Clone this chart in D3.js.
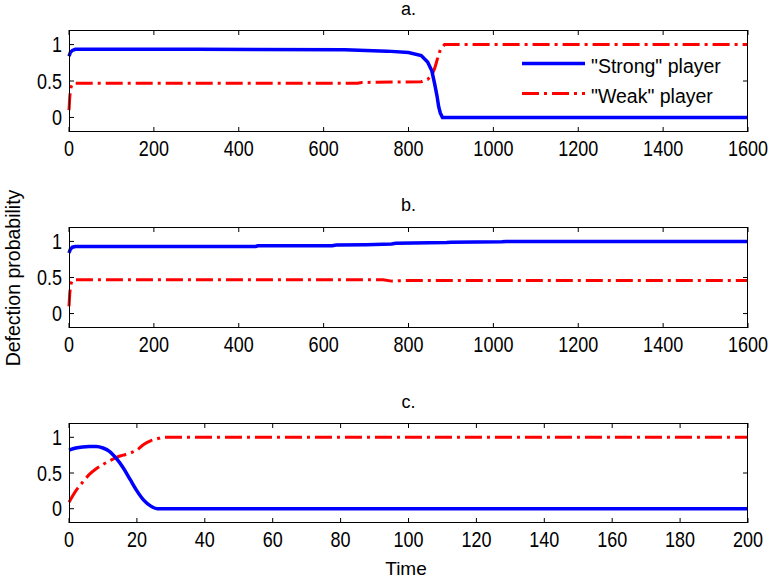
<!DOCTYPE html>
<html><head><meta charset="utf-8">
<script src="https://cdn.jsdelivr.net/npm/d3@7"></script>
<style>body{margin:0;background:#fff}svg{display:block}text{font-family:Arial,"Liberation Sans",sans-serif;fill:#000}</style>
</head><body>
<svg id="c" width="773" height="579"></svg>
<script>
// ---- data ----
const titles = ["a.", "b.", "c."];
const xMax = [1600, 1600, 200];
const xTickStep = [200, 200, 20];
const yTicks = [0, 0.5, 1];
const yTickLabels = ["0", "0.5", "1"];
const seriesNames = ['"Strong" player', '"Weak" player'];

const aStrongT = [0,3,8,15,30,300,650,700,750,800,830,845,855,862,867,871,875,880,890,1600];
const aStrongV = [0.84,0.89,0.92,0.935,0.935,0.935,0.93,0.92,0.91,0.89,0.85,0.76,0.64,0.45,0.3,0.15,0.06,0.0,0.0,0.0];
const aWeakT = [0,2,5,8,15,680,690,830,845,855,862,868,875,885,1600];
const aWeakV = [0.1,0.3,0.42,0.46,0.47,0.47,0.48,0.49,0.52,0.58,0.68,0.8,0.93,1.0,1.0];

const bStrongT = [0,3,8,15,440,445,620,630,700,760,770,890,900,1020,1030,1600];
const bStrongV = [0.84,0.89,0.92,0.93,0.93,0.94,0.94,0.95,0.955,0.965,0.975,0.985,0.99,0.995,1.0,1.0];
const bWeakT = [0,2,5,8,15,740,760,800,1600];
const bWeakV = [0.1,0.3,0.42,0.46,0.47,0.47,0.45,0.46,0.46];

const cStrongT = [0,2,4,6,8,10,12,14,16,18,20,22,24,26,30,200];
const cStrongV = [0.82,0.85,0.865,0.87,0.87,0.85,0.8,0.7,0.57,0.41,0.25,0.12,0.04,0.0,0.0,0.0];
const cWeakT = [0,2,4,6,8,10,12,14,16,18,20,22,24,26,28,200];
const cWeakV = [0.09,0.25,0.37,0.48,0.56,0.62,0.67,0.72,0.75,0.78,0.82,0.9,0.95,0.98,1.0,1.0];

const panels = [
  {strong:[aStrongT,aStrongV], weak:[aWeakT,aWeakV]},
  {strong:[bStrongT,bStrongV], weak:[bWeakT,bWeakV]},
  {strong:[cStrongT,cStrongV], weak:[cWeakT,cWeakV]}
];

// ---- layout ----
const svg = d3.select("#c");
const L = 69, R = 748;
const boxes = [[30,132],[227,328],[423,523]];
const blue = "#0000ff", red = "#ff0000";
const dash = "17,5,3,5";

function tickLabel(g, x, y, txt, anchor){
  g.append("text").attr("transform",`translate(${x},${y}) scale(1,1.18)`)
    .attr("text-anchor",anchor).style("font-size","18px").text(txt);
}

panels.forEach((p,i)=>{
  const [top,bot] = boxes[i];
  const x = d3.scaleLinear().domain([0,xMax[i]]).range([L,R]);
  const y = d3.scaleLinear().domain([-0.2,1.2]).range([bot,top]);
  const g = svg.append("g");
  const ticks = d3.range(0, xMax[i]+1e-9, xTickStep[i]);

  // tick marks (inward, all four sides)
  ticks.forEach(t=>{
    g.append("line").attr("x1",x(t)).attr("x2",x(t)).attr("y1",bot).attr("y2",bot-5).attr("stroke","#000");
    g.append("line").attr("x1",x(t)).attr("x2",x(t)).attr("y1",top).attr("y2",top+5).attr("stroke","#000");
    tickLabel(g, x(t), bot+24, String(t), "middle");
  });
  yTicks.forEach((t,k)=>{
    g.append("line").attr("x1",L).attr("x2",L+5).attr("y1",y(t)).attr("y2",y(t)).attr("stroke","#000");
    g.append("line").attr("x1",R).attr("x2",R-5).attr("y1",y(t)).attr("y2",y(t)).attr("stroke","#000");
    tickLabel(g, 62, y(t)+7.5, yTickLabels[k], "end");
  });

  const line = d3.line().x(d=>x(d[0])).y(d=>y(d[1]))
    .curve(i===2 ? d3.curveMonotoneX : d3.curveLinear);
  const zip = s => s[0].map((t,k)=>[t,s[1][k]]);

  g.append("path").attr("d",line(zip(p.weak))).attr("fill","none")
    .attr("stroke",red).attr("stroke-width",3).attr("stroke-dasharray",dash);
  g.append("path").attr("d",line(zip(p.strong))).attr("fill","none")
    .attr("stroke",blue).attr("stroke-width",3.5);

  g.append("rect").attr("x",L+0.5).attr("y",top+0.5).attr("width",R-L-1).attr("height",bot-top-1)
    .attr("fill","none").attr("stroke","#000");

  g.append("text").attr("x",(L+R)/2).attr("y",[15,211,408][i]).attr("text-anchor","middle")
    .style("font-size","18px").text(titles[i]);

  if(i===0){
    const lg = g.append("g");
    lg.append("line").attr("x1",522).attr("x2",585).attr("y1",63.5).attr("y2",63.5)
      .attr("stroke",blue).attr("stroke-width",3.5);
    lg.append("line").attr("x1",522).attr("x2",585).attr("y1",93.5).attr("y2",93.5)
      .attr("stroke",red).attr("stroke-width",3).attr("stroke-dasharray",dash);
    lg.append("text").attr("x",591).attr("y",73).style("font-size","19.5px").text(seriesNames[0]);
    lg.append("text").attr("x",591).attr("y",103).style("font-size","19.5px").text(seriesNames[1]);
  }
});

svg.append("text").attr("x",406).attr("y",575).attr("text-anchor","middle")
  .style("font-size","19px").text("Time");
svg.append("text").attr("transform","translate(20,278) rotate(-90)").attr("text-anchor","middle")
  .style("font-size","19.5px").text("Defection probability");
</script>
</body></html>
